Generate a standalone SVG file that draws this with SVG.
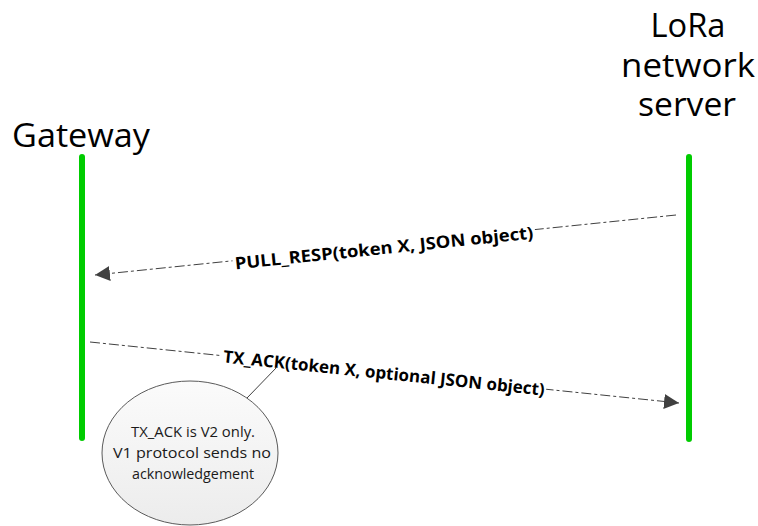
<svg xmlns="http://www.w3.org/2000/svg" width="758" height="526" viewBox="0 0 758 526">
<style>
.title{font-family:"Open Sans","Liberation Sans",sans-serif;font-size:33px;fill:#000;text-anchor:middle}
.lbl{font-family:"Open Sans","Liberation Sans",sans-serif;font-size:17px;font-weight:bold;fill:#000;text-anchor:middle}
.note{font-family:"Open Sans","Liberation Sans",sans-serif;font-size:14.5px;fill:#1a1a1a;text-anchor:middle}
.life{stroke:#00cc00;stroke-width:6;stroke-linecap:round;fill:none}
.msg{stroke:#404040;stroke-width:1;stroke-dasharray:10 3 3 3;fill:none;marker-end:url(#arr)}
</style>
<defs>
<marker id="arr" viewBox="0 0 15 15" refX="15" refY="7.5" markerWidth="15" markerHeight="15" markerUnits="userSpaceOnUse" orient="auto">
<path d="M0,0 L15,7.5 L0,15 z" fill="#404040"/>
</marker>
<linearGradient id="noteFill" x1="0" y1="0" x2="0" y2="1">
<stop offset="0" stop-color="#fbfbfb"/>
<stop offset="1" stop-color="#ececec"/>
</linearGradient>
</defs>
<rect width="758" height="526" fill="#fff"/>
<g id="gateway">
<text class="title" x="81" y="147" textLength="138" lengthAdjust="spacingAndGlyphs">Gateway</text>
<line class="life" x1="82" y1="157" x2="82" y2="438"/>
</g>
<g id="server">
<text class="title" x="688" y="37" textLength="75" lengthAdjust="spacingAndGlyphs">LoRa</text>
<text class="title" x="688" y="77" textLength="134" lengthAdjust="spacingAndGlyphs">network</text>
<text class="title" x="687" y="116" textLength="98" lengthAdjust="spacingAndGlyphs">server</text>
<line class="life" x1="689" y1="157" x2="689" y2="439"/>
</g>
<g id="connectors">
<path class="msg" d="M676,215 L95,275"/>
<g transform="rotate(-5.9 384 248)">
<rect x="232" y="237" width="304" height="22" fill="#fff"/>
<text class="lbl" x="384" y="254" textLength="300" lengthAdjust="spacingAndGlyphs">PULL_RESP(token X, JSON object)</text>
</g>
<path class="msg" d="M90,342 L679,403"/>
<g transform="rotate(5.9 384 373)">
<rect x="221" y="362" width="326" height="22" fill="#fff"/>
<text class="lbl" x="384" y="379" textLength="323" lengthAdjust="spacingAndGlyphs">TX_ACK(token X, optional JSON object)</text>
</g>
<line x1="247" y1="398" x2="277" y2="367" stroke="#404040" stroke-width="1"/>
</g>
<g id="note">
<ellipse cx="190" cy="453" rx="88" ry="72" fill="url(#noteFill)" stroke="#5a5a5a" stroke-width="1"/>
<text class="note" x="193" y="437" textLength="124" lengthAdjust="spacingAndGlyphs">TX_ACK is V2 only.</text>
<text class="note" x="192" y="458" textLength="158" lengthAdjust="spacingAndGlyphs">V1 protocol sends no</text>
<text class="note" x="193" y="479" textLength="122" lengthAdjust="spacingAndGlyphs">acknowledgement</text>
</g>
</svg>
